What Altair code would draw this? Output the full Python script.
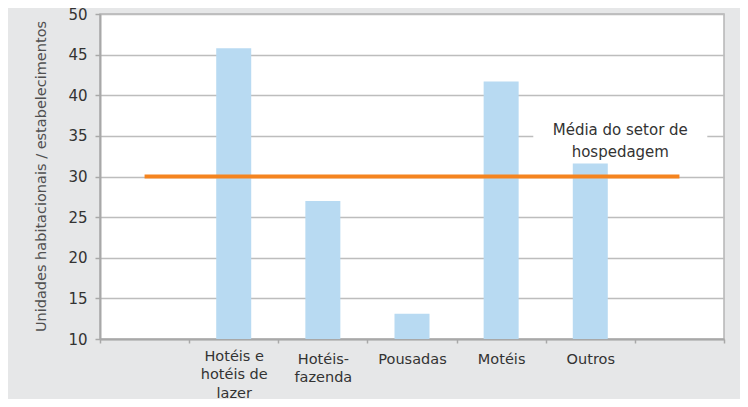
import altair as alt
import pandas as pd

# ---- data ----
categorias = [" ", "Hotéis e|hotéis de|lazer", "Hotéis-|fazenda", "Pousadas", "Motéis", "Outros", "  "]
valores = [None, 45.8, 27.0, 13.1, 41.7, 31.6, None]
media_setor = 30
rotulo_media = "Média do setor de|hospedagem"
rotulo_cat = "Outros"
rotulo_y = 35.7
titulo = "porte médio, por tipo – 2001"
titulo_y = "Unidades habitacionais / estabelecimentos"
ticks_y = [10, 15, 20, 25, 30, 35, 40, 45, 50]

FONT = "DejaVu Sans"

df_barras = pd.DataFrame({"cat": categorias, "valor": valores}).dropna()
df_barras["base"] = ticks_y[0]
df_media = pd.DataFrame({"cat": [categorias[0]], "cat2": [categorias[-1]], "valor": [media_setor]})
df_rotulo = pd.DataFrame({"cat": [rotulo_cat], "valor": [rotulo_y], "texto": [rotulo_media],
                          "topo": [36.0], "baixo": [34.0]})

x_scale = alt.Scale(domain=categorias, paddingInner=0, paddingOuter=0)
y_scale = alt.Scale(domain=[ticks_y[0], ticks_y[-1]], zero=False, nice=False)

x_axis = alt.Axis(
    labelExpr="split(datum.label, '|')",
    labelFont=FONT, labelFontSize=14.5, labelColor="#333333",
    labelLineHeight=18.5, labelBaseline="top", labelAngle=0, labelOverlap=False,
    labelPadding={"condition": {"test": "datum.value === 'Hotéis e|hotéis de|lazer'", "value": 6}, "value": 9},
    tickBand="extent", tickSize=4, tickColor="#a8a8a8", tickWidth=1.5,
    domainColor="#a8a8a8", domainWidth=2, grid=False, title=None,
)
y_axis = alt.Axis(
    values=ticks_y, labelFont=FONT, labelFontSize=15, labelColor="#333333", labelPadding=8,
    tickSize=5, tickColor="#a8a8a8", tickWidth=1.5,
    domainColor="#a8a8a8", domainWidth=2,
    gridColor="#bdbdbd", gridWidth=1.5,
    titleFont=FONT, titleFontSize=14.5, titleFontWeight="normal", titleColor="#505050",
    titleX=-55, titleY=162, titleAngle=270, titleBaseline="alphabetic", titleAlign="center",
)


def X(field="cat"):
    return alt.X(f"{field}:N", scale=x_scale, sort=categorias, axis=x_axis, title=None)


def Y(field):
    return alt.Y(f"{field}:Q", scale=y_scale, axis=y_axis, title=titulo_y)


barras = alt.Chart(df_barras).mark_bar(color="#b8daf2", width=35).encode(
    x=X(), y=Y("valor"), y2="base:Q"
)

linha = alt.Chart(df_media).mark_rule(color="#f5841f", strokeWidth=4).encode(
    x=X(), x2="cat2:N", y=Y("valor")
)

fundo = alt.Chart(df_rotulo).mark_bar(color="white", width=174, xOffset=30).encode(
    x=X(), y=Y("topo"), y2="baixo:Q"
)

texto = alt.Chart(df_rotulo).mark_text(
    font=FONT, fontSize=15, color="#333333", lineBreak="|", lineHeight=22,
    align="center", baseline="middle", dx=30,
).encode(x=X(), y=Y("valor"), text="texto:N")

chart = alt.layer(barras, fundo, linha, texto).properties(
    width=624, height=325,
    autosize=alt.AutoSizeParams(type="none"),
    padding={"left": 92, "top": 6, "right": 16, "bottom": 60},
    background="#e6e7e8",
    title=alt.TitleParams(
        titulo, font=FONT, fontSize=17, fontWeight="bold", color="#222222",
        anchor="middle", offset=6, baseline="alphabetic", dx=-29,
    ),
).configure_view(fill="white", stroke="#b5b5b5", strokeWidth=1.5)

chart.save("out.html", embed_options={"renderer": "svg", "actions": False})
